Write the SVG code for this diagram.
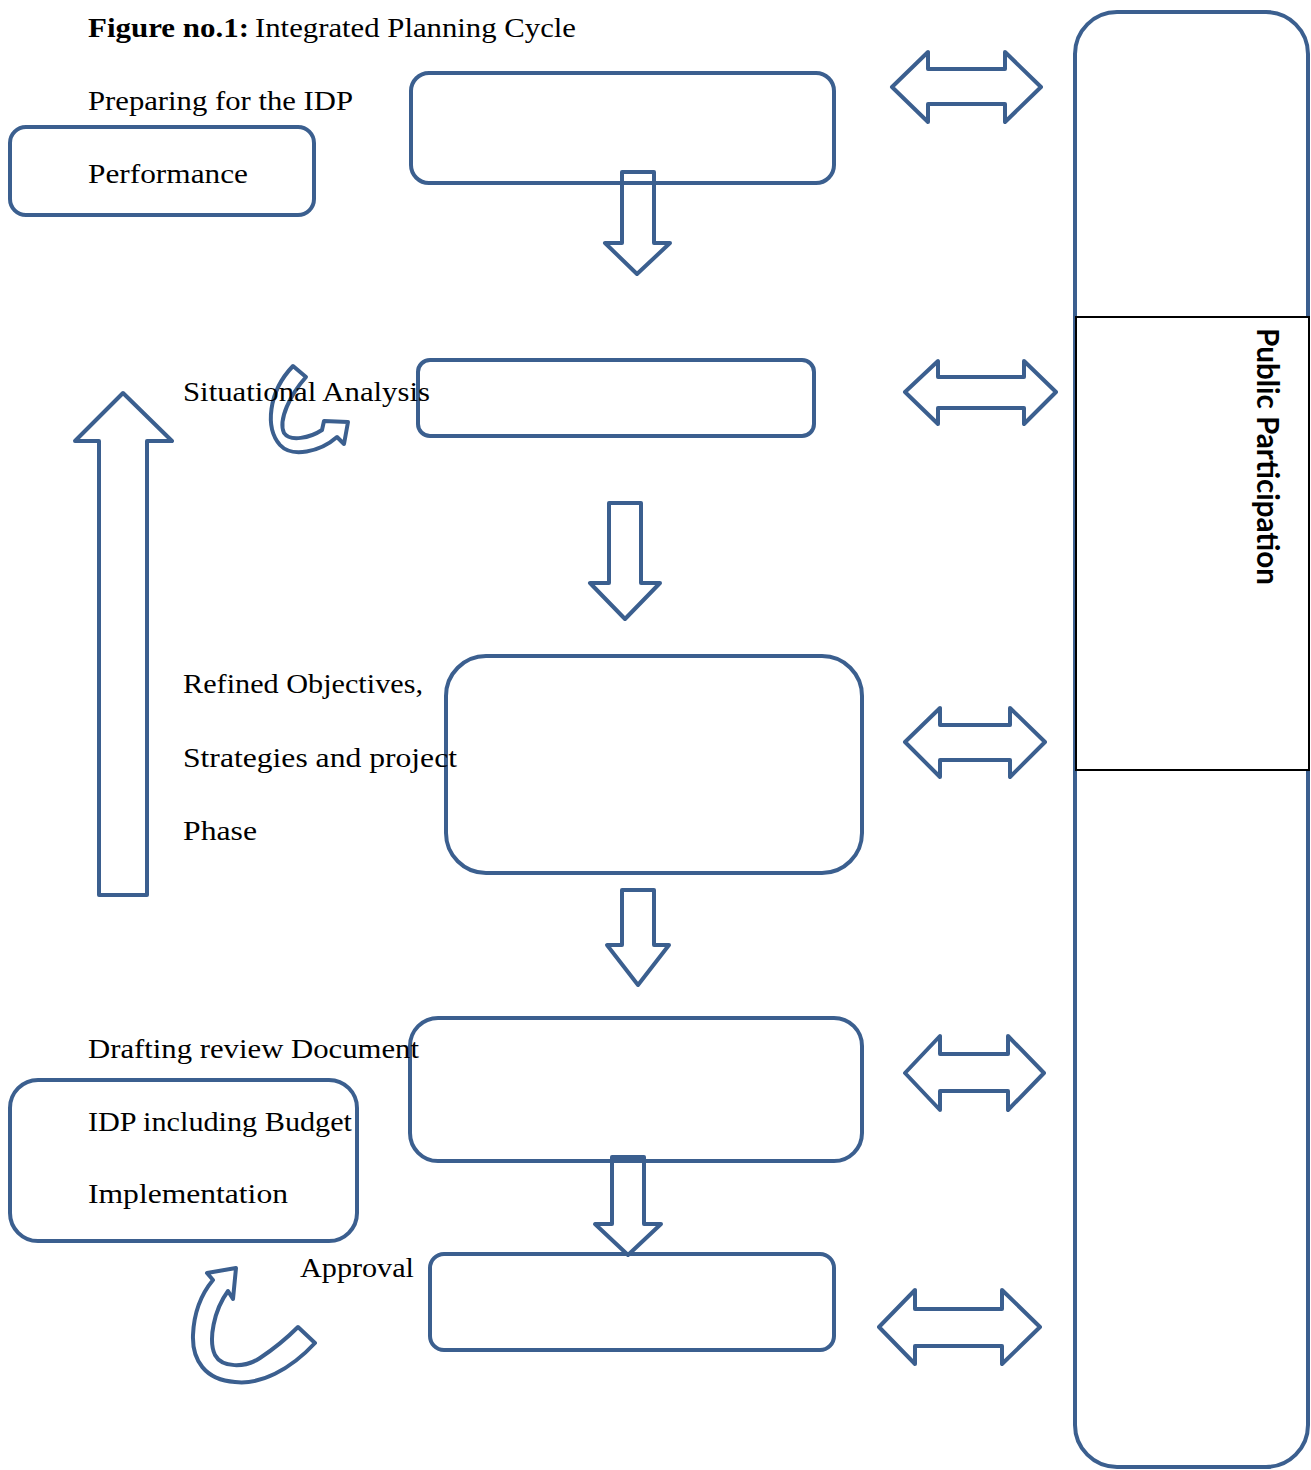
<svg xmlns="http://www.w3.org/2000/svg" width="1311" height="1470" viewBox="0 0 1311 1470">
<style>
.s{fill:none;stroke:#3B5F8F;stroke-width:4;stroke-linejoin:round}
.b{fill:#fff;stroke:#3B5F8F;stroke-width:4}
.t{font-family:"Liberation Serif",serif;font-size:28px;fill:#000}
.pp{font-family:Lato,"Open Sans",sans-serif;font-weight:bold;font-size:31px;fill:#000}
</style>
<rect width="1311" height="1470" fill="#fff"/>
<g id="public-participation">
<rect class="b" x="1075" y="12" width="233" height="1455" rx="42"/>
<rect x="1076" y="317" width="233" height="453" fill="#fff" stroke="#000" stroke-width="2"/>
<text class="pp" transform="translate(1257,328) rotate(90)" x="0" y="0" textLength="257" lengthAdjust="spacingAndGlyphs">Public Participation</text>
</g>
<g id="box-preparing"><rect class="s" x="411" y="73" width="423" height="110" rx="18"/></g>
<g id="box-situational"><rect class="s" x="418" y="360" width="396" height="76" rx="12"/></g>
<g id="box-refined"><rect class="s" x="446" y="656" width="416" height="217" rx="40"/></g>
<g id="box-drafting"><rect class="s" x="410" y="1018" width="452" height="143" rx="28"/></g>
<g id="box-approval"><rect class="s" x="430" y="1254" width="404" height="96" rx="14"/></g>
<g id="box-performance"><rect class="s" x="10" y="127" width="304" height="88" rx="16"/></g>
<g id="box-implementation"><rect class="s" x="10" y="1080" width="347" height="161" rx="28"/></g>
<g id="connectors">
<path class="s" d="M622,172 H654 V243 H670 L637,274 L605,243 H622 Z"/>
<path class="s" d="M609,503 H641 V583 H660 L625,619 L590,583 H609 Z"/>
<path class="s" d="M622,890 H654 V945 H669 L638,985 L607,945 H622 Z"/>
<path class="s" d="M612,1157 H644 V1224 H661 L628,1255 L595,1224 H612 Z"/>
<path class="s" d="M99,895 V441 H75 L123,393 L172,441 H147 V895 Z"/>
<path class="s" d="M892,87 L928,52 V69 H1005 V52 L1041,87 L1005,122 V104 H928 V122 Z"/>
<path class="s" d="M905,392 L938,361 V377 H1024 V361 L1056,392 L1024,424 V408 H938 V424 Z"/>
<path class="s" d="M905,742 L940,708 V725 H1010 V708 L1045,742 L1010,777 V760 H940 V777 Z"/>
<path class="s" d="M905,1073 L940,1036 V1054 H1008 V1036 L1044,1073 L1008,1110 V1091 H940 V1110 Z"/>
<path class="s" d="M879,1327 L915,1290 V1309 H1002 V1290 L1040,1327 L1002,1364 V1346 H915 V1364 Z"/>
<path class="s" d="M293,366 L306,377 C290,395 278,420 284,433 C290,442 310,438 322,430 L324,421 L348,422 L344,444 L337,437 C320,452 292,458 280,445 C265,428 268,392 293,366 Z"/>
<path class="s" d="M298,1327 L315,1343 C290,1370 260,1385 235,1382 C205,1380 192,1360 193,1335 C194,1310 203,1292 213,1280 L207,1273 L236,1268 L233,1299 L228,1291 C214,1310 208,1340 215,1355 C222,1368 245,1368 260,1358 C275,1348 290,1335 298,1327 Z"/>
</g>
<g id="labels">
<text class="t" x="88" y="37" font-weight="bold" textLength="161" lengthAdjust="spacingAndGlyphs">Figure no.1:</text>
<text class="t" x="255" y="37" textLength="321" lengthAdjust="spacingAndGlyphs">Integrated Planning Cycle</text>
<text class="t" x="88" y="110" textLength="265" lengthAdjust="spacingAndGlyphs">Preparing for the IDP</text>
<text class="t" x="88" y="183" textLength="160" lengthAdjust="spacingAndGlyphs">Performance</text>
<text class="t" x="183" y="401" textLength="247" lengthAdjust="spacingAndGlyphs">Situational Analysis</text>
<text class="t" x="183" y="693" textLength="240" lengthAdjust="spacingAndGlyphs">Refined Objectives,</text>
<text class="t" x="183" y="767" textLength="274" lengthAdjust="spacingAndGlyphs">Strategies and project</text>
<text class="t" x="183" y="840" textLength="74" lengthAdjust="spacingAndGlyphs">Phase</text>
<text class="t" x="88" y="1058" textLength="331" lengthAdjust="spacingAndGlyphs">Drafting review Document</text>
<text class="t" x="88" y="1131" textLength="264" lengthAdjust="spacingAndGlyphs">IDP including Budget</text>
<text class="t" x="88" y="1203" textLength="200" lengthAdjust="spacingAndGlyphs">Implementation</text>
<text class="t" x="300" y="1277" textLength="114" lengthAdjust="spacingAndGlyphs">Approval</text>
</g>
</svg>
